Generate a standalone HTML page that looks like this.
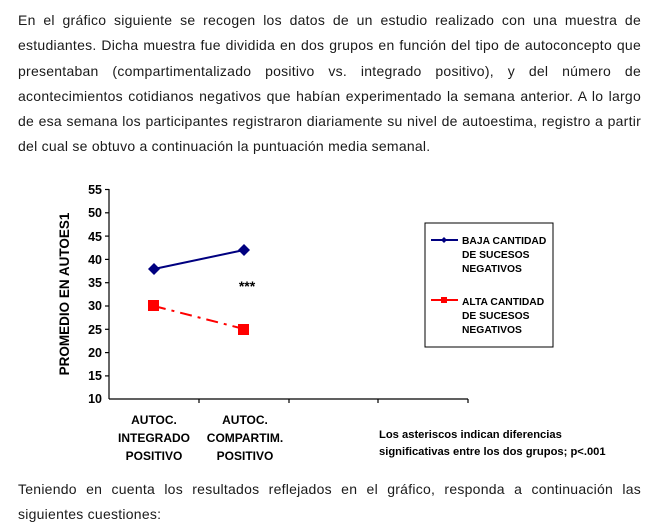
<!DOCTYPE html>
<html><head><meta charset="utf-8"><style>
body{margin:0;width:658px;height:527px;background:#fff;font-family:"Liberation Sans",Arial,sans-serif;color:#1a1a1a;position:relative;overflow:hidden}
.p{position:absolute;left:18px;width:623px;font-size:14px;letter-spacing:0.25px;line-height:25.3px;text-align:justify}
svg{position:absolute;left:0;top:0}
svg text{font-family:"Liberation Sans",Arial,sans-serif;font-weight:bold;fill:#000}
</style></head><body>
<div class="p" style="top:8px">En el gráfico siguiente se recogen los datos de un estudio realizado con una muestra de estudiantes. Dicha muestra fue dividida en dos grupos en función del tipo de autoconcepto que presentaban (compartimentalizado positivo vs. integrado positivo), y del número de acontecimientos cotidianos negativos que habían experimentado la semana anterior. A lo largo de esa semana los participantes registraron diariamente su nivel de autoestima, registro a partir del cual se obtuvo a continuación la puntuación media semanal.</div>
<div class="p" style="top:477px">Teniendo en cuenta los resultados reflejados en el gráfico, responda a continuación las siguientes cuestiones:</div>
<svg width="658" height="527">
<g stroke="#000" stroke-width="1.2">
<line x1="109" y1="189" x2="109" y2="399"/>
<line x1="109" y1="399" x2="468" y2="399"/>
<line x1="105" y1="189.5" x2="109" y2="189.5"/><line x1="105" y1="212.8" x2="109" y2="212.8"/><line x1="105" y1="236.1" x2="109" y2="236.1"/><line x1="105" y1="259.4" x2="109" y2="259.4"/><line x1="105" y1="282.7" x2="109" y2="282.7"/><line x1="105" y1="306" x2="109" y2="306"/><line x1="105" y1="329.3" x2="109" y2="329.3"/><line x1="105" y1="352.6" x2="109" y2="352.6"/><line x1="105" y1="375.9" x2="109" y2="375.9"/>
<line x1="199" y1="399" x2="199" y2="403"/><line x1="289" y1="399" x2="289" y2="403"/><line x1="378" y1="399" x2="378" y2="403"/><line x1="468" y1="399" x2="468" y2="403"/>
</g>
<g font-size="12.5" text-anchor="end">
<text x="102" y="194">55</text><text x="102" y="217">50</text><text x="102" y="241">45</text><text x="102" y="264">40</text><text x="102" y="287">35</text><text x="102" y="310">30</text><text x="102" y="334">25</text><text x="102" y="357">20</text><text x="102" y="380">15</text><text x="102" y="403">10</text>
</g>
<text transform="translate(69,294) rotate(-90)" font-size="13.5" text-anchor="middle">PROMEDIO EN AUTOES1</text>
<g font-size="12" text-anchor="middle">
<text x="154" y="424">AUTOC.</text><text x="154" y="442">INTEGRADO</text><text x="154" y="460">POSITIVO</text>
<text x="245" y="424">AUTOC.</text><text x="245" y="442">COMPARTIM.</text><text x="245" y="460">POSITIVO</text>
</g>
<text x="247" y="291" font-size="14" text-anchor="middle">***</text>
<line x1="154" y1="269" x2="244" y2="250" stroke="#000080" stroke-width="2"/>
<polygon points="154,263 160,269 154,275 148,269" fill="#000080"/>
<polygon points="244,244 250,250 244,256 238,250" fill="#000080"/>
<line x1="154" y1="306" x2="244" y2="329" stroke="#ff0000" stroke-width="2" stroke-dasharray="12,6,3,6"/>
<rect x="148" y="300" width="11" height="11" fill="#ff0000"/>
<rect x="238" y="324" width="11" height="11" fill="#ff0000"/>
<rect x="425" y="223" width="128" height="124" fill="none" stroke="#000" stroke-width="1"/>
<line x1="431" y1="240" x2="458" y2="240" stroke="#000080" stroke-width="2"/><polygon points="444,237 447,240 444,243 441,240" fill="#000080"/>
<line x1="431" y1="300" x2="458" y2="300" stroke="#ff0000" stroke-width="2"/><rect x="441" y="297" width="6" height="6" fill="#ff0000"/>
<g font-size="10.3">
<text x="462" y="244">BAJA CANTIDAD</text><text x="462" y="258">DE SUCESOS</text><text x="462" y="272">NEGATIVOS</text>
<text x="462" y="305">ALTA CANTIDAD</text><text x="462" y="319">DE SUCESOS</text><text x="462" y="333">NEGATIVOS</text>
</g>
<g font-size="11.2">
<text x="379" y="438">Los asteriscos indican diferencias</text>
<text x="379" y="455">significativas entre los dos grupos; p&lt;.001</text>
</g>
</svg>
</body></html>
